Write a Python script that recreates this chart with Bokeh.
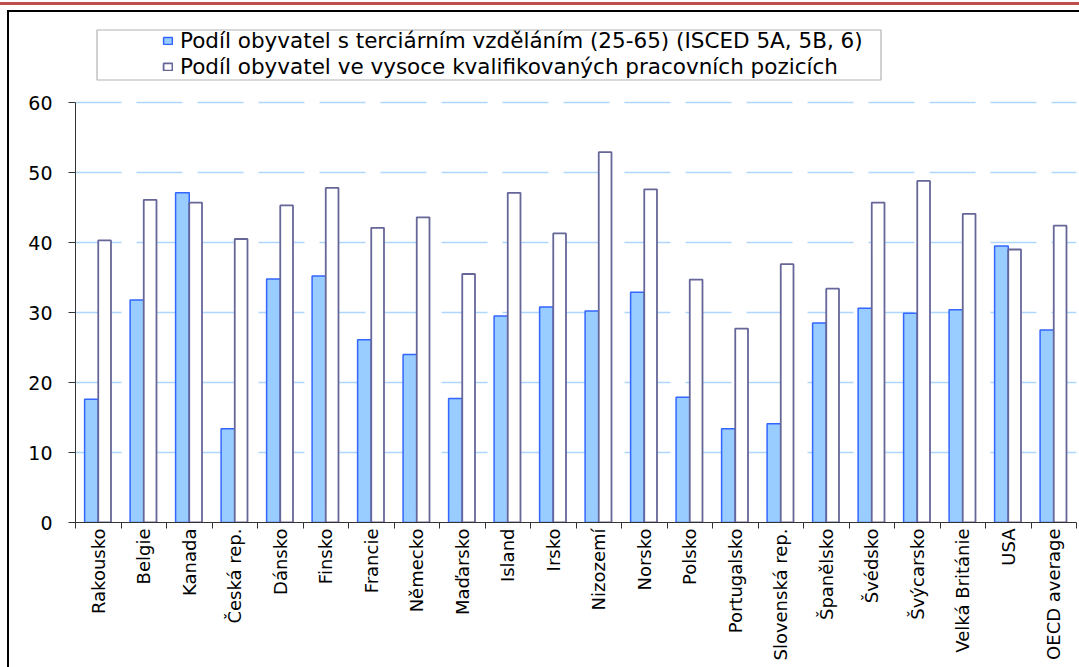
from math import pi

from bokeh.embed import file_html
from bokeh.models import (BoxAnnotation, FixedTicker, InlineStyleSheet, Legend,
                          LegendItem, Range1d)
from bokeh.plotting import figure
from bokeh.resources import INLINE

# Countries (Czech names) and the two shares, in %
countries = ["Rakousko", "Belgie", "Kanada", "Česká rep.", "Dánsko", "Finsko",
             "Francie", "Německo", "Maďarsko", "Island", "Irsko", "Nizozemí",
             "Norsko", "Polsko", "Portugalsko", "Slovenská rep.", "Španělsko",
             "Švédsko", "Švýcarsko", "Velká Británie", "USA", "OECD average"]
tertiary = [17.6, 31.8, 47.1, 13.4, 34.8, 35.2, 26.1, 24.0, 17.7, 29.5, 30.8,
            30.2, 32.9, 17.9, 13.4, 14.1, 28.5, 30.6, 29.9, 30.4, 39.5, 27.5]
skilled_jobs = [40.3, 46.1, 45.7, 40.5, 45.3, 47.8, 42.1, 43.6, 35.5, 47.1,
                41.3, 52.9, 47.6, 34.7, 27.7, 36.9, 33.4, 45.7, 48.8, 44.1,
                39.0, 42.4]
y_ticks = [0, 10, 20, 30, 40, 50, 60]
legend_labels = ["Podíl obyvatel s terciárním vzděláním (25-65) (ISCED 5A, 5B, 6)",
                 "Podíl obyvatel ve vysoce kvalifikovaných pracovních pozicích"]

n = len(countries)
idx = list(range(n))
FONT = "DejaVu Sans"

# page decoration: black left edge of the frame (::before) and a band with
# the red rule plus the black top edge of the frame (::after)
page_css = InlineStyleSheet(css="""
:host::before {
  content: ""; position: absolute; left: 7px; top: 10px;
  width: 2px; height: calc(100% - 10px); background: #000;
  z-index: 100; pointer-events: none;
}
:host::after {
  content: ""; position: absolute; left: 0; top: 2px;
  width: 100%; height: 10px;
  background:
    linear-gradient(#c0504d, #c0504d) 0 0 / 100% 3px no-repeat,
    linear-gradient(#000, #000) 7px 8px / 100% 2px no-repeat;
  z-index: 100; pointer-events: none;
}
""")

p = figure(width=1079, height=667, output_backend="svg", toolbar_location=None,
           x_range=Range1d(-0.5, n - 0.5), y_range=Range1d(0, 72.86),
           min_border_left=75, min_border_right=3, min_border_top=12,
           min_border_bottom=145, outline_line_color=None,
           background_fill_color="white", border_fill_color="white",
           stylesheets=[page_css])

# grouped bars: tertiary share on the left, skilled jobs share on the right
bw1, bw2 = 0.30, 0.28
r1 = p.vbar(x=[i - bw1 / 2 for i in idx], top=tertiary, width=bw1, bottom=0,
            fill_color="#99ccff", line_color="#3366ff", line_width=1.5)
r2 = p.vbar(x=[i + bw2 / 2 for i in idx], top=skilled_jobs, width=bw2, bottom=0,
            fill_color="white", line_color="#666699", line_width=1.8)

# y axis
p.yaxis.ticker = FixedTicker(ticks=y_ticks)
p.yaxis.bounds = (0, 60)
p.yaxis.axis_line_color = "#333333"
p.yaxis.major_tick_line_color = "#333333"
p.yaxis.major_tick_out = 7
p.yaxis.major_tick_in = 0
p.yaxis.minor_tick_line_color = None
p.yaxis.major_label_standoff = 16
p.yaxis.major_label_text_font = FONT
p.yaxis.major_label_text_font_size = "19px"
p.yaxis.major_label_text_color = "black"

# x axis: labels at category centres, tick marks on category boundaries
p.xaxis.ticker = FixedTicker(ticks=idx, minor_ticks=[i - 0.5 for i in range(n + 1)])
p.xaxis.major_label_overrides = {i: c for i, c in zip(idx, countries)}
p.xaxis.major_tick_line_color = None
p.xaxis.minor_tick_line_color = "#333333"
p.xaxis.minor_tick_out = 6
p.xaxis.minor_tick_in = 0
p.xaxis.axis_line_color = "#333333"
p.xaxis.major_label_orientation = pi / 2
p.xaxis.major_label_standoff = 0
p.xaxis.major_label_text_font = FONT
p.xaxis.major_label_text_font_size = "18px"
p.xaxis.major_label_text_color = "black"

# horizontal grid
p.xgrid.visible = False
p.ygrid.ticker = FixedTicker(ticks=y_ticks[1:])
p.ygrid.grid_line_color = "#aed6ff"
p.ygrid.grid_line_width = 1.5
p.ygrid.grid_line_dash = "46 15"

# legend frame
p.add_layout(BoxAnnotation(left=96.5, right=880.5, top=29.5, bottom=79.5,
                           left_units="canvas", right_units="canvas",
                           top_units="canvas", bottom_units="canvas",
                           fill_alpha=0, line_color="black", line_width=1.2))

legend = Legend(items=[LegendItem(label=legend_labels[0], renderers=[r1]),
                       LegendItem(label=legend_labels[1], renderers=[r2])],
                location=(87, 443), padding=0, margin=0, spacing=1,
                glyph_width=11, glyph_height=9, label_height=24,
                label_standoff=7, border_line_color=None,
                background_fill_alpha=0,
                label_text_font=FONT, label_text_font_size="21.5px",
                label_text_color="black")
p.add_layout(legend, "center")

open("out.html", "w").write(file_html(p, INLINE))
